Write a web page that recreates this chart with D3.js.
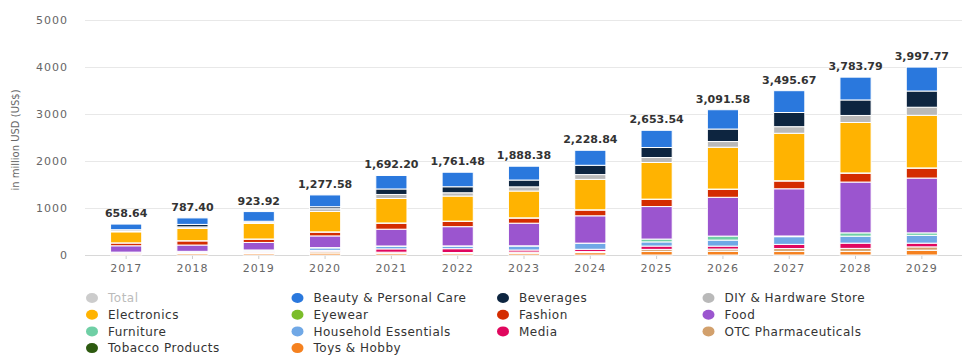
<!DOCTYPE html>
<html>
<head>
<meta charset="utf-8">
<script src="https://cdn.jsdelivr.net/npm/d3@7"></script>
<style>
  body { margin: 0; background: #fff; }
  svg { font-family: "DejaVu Sans", Verdana, sans-serif; }
</style>
</head>
<body>
<div id="chart"></div>
<script>
// years and totals (the "Total" series is only shown as labels)
const years = ["2017", "2018", "2019", "2020", "2021", "2022", "2023", "2024", "2025", "2026", "2027", "2028", "2029"];
const totals = [658.64, 787.40, 923.92, 1277.58, 1692.20, 1761.48, 1888.38, 2228.84, 2653.54, 3091.58, 3495.67, 3783.79, 3997.77];

// segments, top of the stack first (legend order)
const beauty      = [120, 138, 206, 251, 287, 309, 294, 319, 366, 411, 464, 485, 509];
const beverages   = [25, 53, 25, 43, 117, 128, 145, 198, 213, 266, 302, 330, 345];
const diy         = [20, 32, 22, 57, 85, 70, 89, 102, 106, 121, 140, 149, 172];
const electronics = [235, 262, 330, 435, 521, 533, 570, 647, 779, 890, 1010, 1074, 1119];
const eyewear     = [2, 3, 4, 5, 5, 5, 5, 5, 5, 5, 5, 5, 5];
const fashion     = [60, 89, 70, 81, 128, 113, 109, 123, 153, 170, 166, 189, 211];
const food        = [135, 134, 160, 249, 357, 409, 481, 581, 692, 826, 1004, 1081, 1166];
const furniture   = [3, 4, 5, 5, 5, 5, 5, 5, 60, 85, 15, 70, 53];
const household   = [10, 12, 25, 53, 57, 55, 85, 126, 89, 128, 164, 149, 166];
const media       = [12, 15, 25, 21, 70, 81, 43, 49, 70, 62, 89, 111, 79];
const otc         = [10, 15, 20, 32, 25, 20, 25, 20, 43, 45, 60, 64, 70];
const tobacco     = [1, 2, 2, 3, 3, 3, 3, 3, 3, 3, 3, 3, 3];
const toys        = [25, 30, 30, 43, 32, 30, 35, 50, 74, 79, 74, 74, 100];

const yTicks = [0, 1000, 2000, 3000, 4000, 5000];

const seriesNames = ["Total", "Beauty & Personal Care", "Beverages", "DIY & Hardware Store",
  "Electronics", "Eyewear", "Fashion", "Food",
  "Furniture", "Household Essentials", "Media", "OTC Pharmaceuticals",
  "Tobacco Products", "Toys & Hobby"];
const seriesValues = [null, beauty, beverages, diy, electronics, eyewear, fashion, food,
  furniture, household, media, otc, tobacco, toys];
const colors = ["#cccccc", "#2a78dd", "#0d2540", "#b9b9b9", "#ffb301", "#7bbd2a", "#d42c00", "#9b55cf",
  "#6fcfa5", "#70a8e6", "#e0075e", "#d2a06c", "#2d5a10", "#f5811f"];

const width = 962, height = 355;
const svg = d3.select("#chart").append("svg")
  .attr("width", width)
  .attr("height", height);

const x = d3.scaleBand()
  .domain(years)
  .range([93, 955])
  .paddingInner(0.53)
  .paddingOuter(0.265);

const y = d3.scaleLinear()
  .domain([0, 5000])
  .range([255, 20]);

// gridlines + y labels
svg.append("g")
  .selectAll("line")
  .data(yTicks)
  .enter().append("line")
  .attr("x1", 85)
  .attr("x2", width)
  .attr("y1", d => y(d) + 0.5)
  .attr("y2", d => y(d) + 0.5)
  .attr("stroke", d => d === 0 ? "#d8d8d8" : "#e8e8e8");

svg.append("g")
  .selectAll("text")
  .data(yTicks)
  .enter().append("text")
  .attr("x", 68)
  .attr("y", d => y(d))
  .attr("dy", "0.35em")
  .attr("text-anchor", "end")
  .attr("font-size", 11)
  .attr("letter-spacing", 1)
  .attr("fill", "#666")
  .text(d => d);

// y axis title
svg.append("text")
  .attr("transform", "rotate(-90)")
  .attr("x", -140)
  .attr("y", 19)
  .attr("text-anchor", "middle")
  .attr("font-size", 10)
  .attr("fill", "#666")
  .text("in million USD (US$)");

// x ticks + labels
const xg = svg.append("g");
xg.selectAll("line")
  .data(years)
  .enter().append("line")
  .attr("x1", d => x(d) + x.bandwidth() / 2)
  .attr("x2", d => x(d) + x.bandwidth() / 2)
  .attr("y1", 255)
  .attr("y2", 259)
  .attr("stroke", "#ccc");
xg.selectAll("text")
  .data(years)
  .enter().append("text")
  .attr("x", d => x(d) + x.bandwidth() / 2)
  .attr("y", 272)
  .attr("text-anchor", "middle")
  .attr("font-size", 11)
  .attr("letter-spacing", 1)
  .attr("fill", "#666")
  .text(d => d);

// stacked bars, first series on top -> stack in reverse order
const keys = seriesNames.slice(1);
const table = years.map((yr, i) => {
  const row = { year: yr };
  keys.forEach((k, j) => { row[k] = seriesValues[j + 1][i]; });
  return row;
});
const stack = d3.stack().keys(keys.slice().reverse());
const layers = stack(table);

svg.selectAll("g.layer")
  .data(layers)
  .enter().append("g")
  .attr("class", "layer")
  .attr("fill", d => colors[seriesNames.indexOf(d.key)])
  .selectAll("rect")
  .data(d => d)
  .enter().append("rect")
  .attr("x", d => x(d.data.year))
  .attr("y", d => y(d[1]))
  .attr("width", x.bandwidth())
  .attr("height", d => y(d[0]) - y(d[1]))
  .attr("stroke", "#fff")
  .attr("stroke-width", 1);

// total labels
svg.append("g")
  .selectAll("text")
  .data(years)
  .enter().append("text")
  .attr("x", d => x(d) + x.bandwidth() / 2)
  .attr("y", (d, i) => y(totals[i]) - 7)
  .attr("text-anchor", "middle")
  .attr("font-size", 11)
  .attr("font-weight", "bold")
  .attr("fill", "#333")
  .text((d, i) => d3.format(",.2f")(totals[i]));

// legend, 4 columns
const legend = svg.selectAll(".legend")
  .data(seriesNames)
  .enter().append("g")
  .attr("class", "legend")
  .attr("transform", (d, i) => `translate(${92 + (i % 4) * 205.5},${298 + Math.floor(i / 4) * 16.7})`);

legend.append("ellipse")
  .attr("rx", 6)
  .attr("ry", 5)
  .attr("fill", (d, i) => colors[i]);

legend.append("text")
  .attr("x", 16)
  .attr("dy", "0.35em")
  .attr("font-size", 12)
  .attr("letter-spacing", 0.5)
  .attr("fill", (d, i) => i === 0 ? "#bbb" : "#333")
  .text(d => d);
</script>
</body>
</html>
